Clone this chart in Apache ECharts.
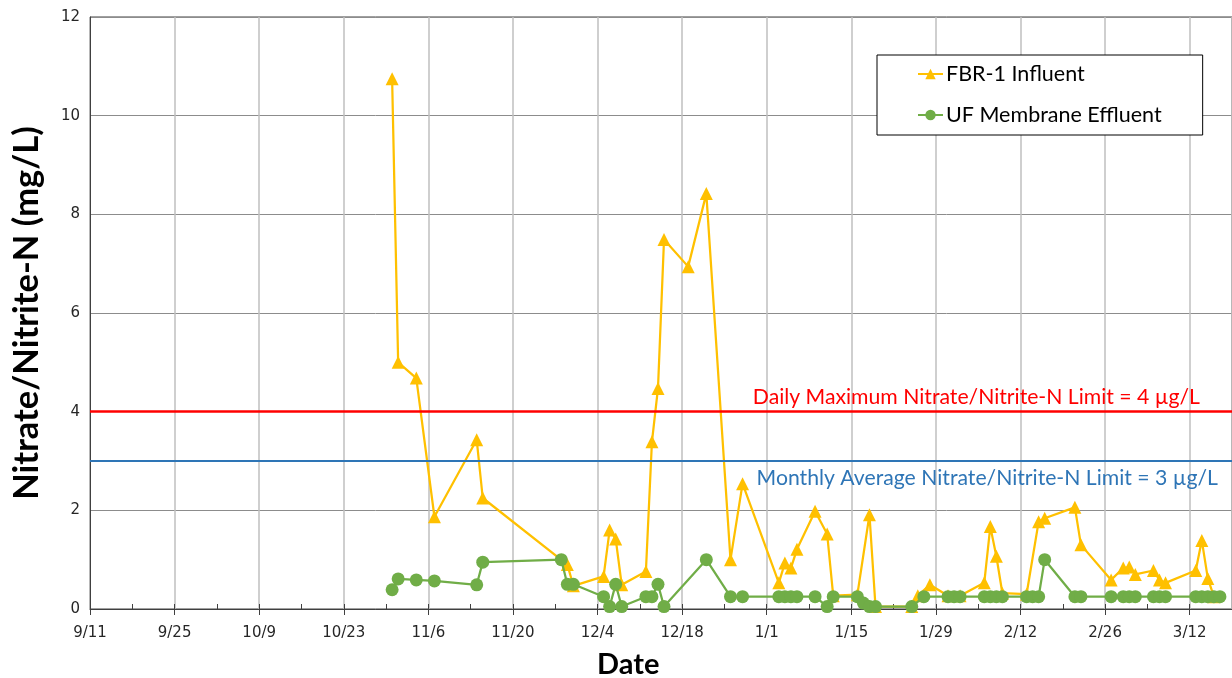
<!DOCTYPE html>
<html><head><meta charset="utf-8">
<script src="https://cdn.jsdelivr.net/npm/echarts@6/dist/echarts.min.js"></script>
<style>html,body{margin:0;padding:0;background:#fff}#c{width:1232px;height:678px}</style>
</head><body><div id="c"></div>
<script>
// ---- data ----
const startDate = '2013-09-11';
const axisMaxDays = 189;
const tickDays = 14;
const minorTickDays = 7;
const yMin = 0, yMax = 12, yStep = 2;

const influentDates = ['2013-10-31','2013-11-01','2013-11-04','2013-11-07','2013-11-14','2013-11-15','2013-11-29','2013-11-30',
  '2013-12-05','2013-12-06','2013-12-07','2013-12-08','2013-12-12','2013-12-13','2013-12-14','2013-12-15','2013-12-19','2013-12-22',
  '2013-12-26','2013-12-28','2014-01-03','2014-01-04','2014-01-05','2014-01-06','2014-01-09','2014-01-11','2014-01-12','2014-01-16',
  '2014-01-18','2014-01-19','2014-01-25','2014-01-26','2014-01-28','2014-01-31','2014-02-02','2014-02-06','2014-02-07','2014-02-08',
  '2014-02-09','2014-02-13','2014-02-15','2014-02-16','2014-02-21','2014-02-22','2014-02-27','2014-03-01','2014-03-02','2014-03-03',
  '2014-03-06','2014-03-07','2014-03-08','2014-03-13','2014-03-14','2014-03-15','2014-03-16'];
const influentValues = [10.75,5.0,4.68,1.87,3.43,2.25,0.9,0.47,
  0.66,1.6,1.42,0.49,0.76,3.39,4.47,7.49,6.94,8.42,
  1.0,2.54,0.53,0.93,0.83,1.21,1.98,1.52,0.27,0.29,
  1.91,0.05,0.05,0.27,0.49,0.27,0.27,0.53,1.67,1.07,
  0.32,0.3,1.77,1.84,2.06,1.3,0.59,0.83,0.85,0.7,
  0.78,0.59,0.53,0.78,1.39,0.62,0.25];

const effluentDates = ['2013-10-31','2013-11-01','2013-11-04','2013-11-07','2013-11-14','2013-11-15','2013-11-28','2013-11-29','2013-11-30',
  '2013-12-05','2013-12-06','2013-12-07','2013-12-08','2013-12-12','2013-12-13','2013-12-14','2013-12-15','2013-12-22','2013-12-26','2013-12-28',
  '2014-01-03','2014-01-04','2014-01-05','2014-01-06','2014-01-09','2014-01-11','2014-01-12','2014-01-16','2014-01-17','2014-01-18','2014-01-19',
  '2014-01-25','2014-01-27','2014-01-31','2014-02-01','2014-02-02','2014-02-06','2014-02-07','2014-02-08','2014-02-09',
  '2014-02-13','2014-02-14','2014-02-15','2014-02-16','2014-02-21','2014-02-22','2014-02-27','2014-03-01','2014-03-02','2014-03-03',
  '2014-03-06','2014-03-07','2014-03-08','2014-03-13','2014-03-14','2014-03-15','2014-03-16','2014-03-17'];
const effluentValues = [0.39,0.61,0.59,0.57,0.49,0.95,1.0,0.5,0.5,
  0.25,0.05,0.5,0.05,0.25,0.25,0.5,0.05,1.0,0.25,0.25,
  0.25,0.25,0.25,0.25,0.25,0.05,0.25,0.25,0.12,0.05,0.05,
  0.05,0.25,0.25,0.25,0.25,0.25,0.25,0.25,0.25,
  0.25,0.25,0.25,1.0,0.25,0.25,0.25,0.25,0.25,0.25,
  0.25,0.25,0.25,0.25,0.25,0.25,0.25,0.25];

const dailyMaxLimit = 4;
const monthlyAvgLimit = 3;
const seriesNames = ['FBR-1 Influent','UF Membrane Effluent'];
const dailyLabel = 'Daily Maximum Nitrate/Nitrite-N Limit = 4 \u00b5g/L';
const monthlyLabel = 'Monthly Average Nitrate/Nitrite-N Limit = 3 \u00b5g/L';
const yTitle = 'Nitrate/Nitrite-N (mg/L)';
const xTitle = 'Date';

// ---- helpers ----
const DAY = 86400000;
const t0 = Date.parse(startDate + 'T00:00:00Z');
function toDay(s){ return Math.round((Date.parse(s + 'T00:00:00Z') - t0) / DAY); }
function dayLabel(d){ const dt = new Date(t0 + d * DAY); return (dt.getUTCMonth() + 1) + '/' + dt.getUTCDate(); }
function pairs(ds, vs){ return ds.map((d, i) => [toDay(d), vs[i]]); }

const chart = echarts.init(document.getElementById('c'), null, {renderer: 'canvas'});
const tickFont = {fontFamily: 'DejaVu Sans', fontSize: 15, color: '#262626'};
chart.setOption({
  animation: false,
  backgroundColor: '#fff',
  grid: {left: 90, top: 17, width: 1143, height: 592, show: true, borderColor: '#404040', borderWidth: 1, backgroundColor: 'transparent'},
  legend: {
    data: seriesNames, orient: 'vertical', left: 877, top: 55,
    borderColor: '#000', borderWidth: 1, backgroundColor: '#fff',
    padding: [7, 41, 8, 40], itemGap: 17, itemWidth: 25, itemHeight: 13,
    textStyle: {fontFamily: 'Lato', fontSize: 21.5, color: '#000', lineHeight: 24, padding: [0, 0, 0, -2]}
  },
  xAxis: [{
    type: 'value', min: 0, max: axisMaxDays, interval: tickDays,
    axisLine: {show: true, lineStyle: {color: '#404040', width: 1}},
    axisTick: {show: true, length: 6, lineStyle: {color: '#404040'}},
    axisLabel: Object.assign({formatter: dayLabel, margin: 17, showMaxLabel: false}, tickFont),
    splitLine: {show: true, lineStyle: {color: '#bfbfbf', width: 1.5}}
  }, {
    type: 'value', min: 0, max: axisMaxDays, interval: minorTickDays, position: 'bottom', offset: 0,
    axisLine: {show: false}, axisTick: {show: true, inside: true, length: 5, lineStyle: {color: '#404040'}},
    axisLabel: {show: false}, splitLine: {show: false}
  }],
  yAxis: {
    type: 'value', min: yMin, max: yMax, interval: yStep,
    axisLine: {show: true, lineStyle: {color: '#404040', width: 1}},
    axisTick: {show: false},
    axisLabel: Object.assign({margin: 10}, tickFont),
    splitLine: {show: true, lineStyle: {color: '#8c8c8c', width: 1}},
    name: yTitle, nameLocation: 'middle', nameGap: 46,
    nameTextStyle: {fontFamily: 'Lato', fontWeight: 'bold', fontSize: 34.5, color: '#000'}
  },
  graphic: [{type: 'text', left: 597, top: 650, style: {text: xTitle, fontFamily: 'Lato', fontWeight: 'bold', fontSize: 29, fill: '#000'}}],
  series: [{
    type: 'line', name: 'limits', data: [], z: 1, silent: true,
    markLine: {
      silent: true, symbol: ['none', 'none'], animation: false,
      data: [
        {yAxis: dailyMaxLimit, lineStyle: {color: '#FF0000', width: 2.5, type: 'solid'},
         label: {show: true, position: 'insideEndTop', formatter: dailyLabel, color: '#FF0000', fontFamily: 'Lato', fontSize: 21.2, distance: [32, 4]}},
        {yAxis: monthlyAvgLimit, lineStyle: {color: '#2E75B6', width: 2, type: 'solid'},
         label: {show: true, position: 'insideEndBottom', formatter: monthlyLabel, color: '#2E75B6', fontFamily: 'Lato', fontSize: 21.2, distance: [14, 7]}}
      ]
    }
  }, {
    type: 'line', name: seriesNames[0], data: pairs(influentDates, influentValues), z: 3,
    symbol: 'triangle', symbolSize: 13, color: '#FFC000',
    itemStyle: {color: '#FFC000'}, lineStyle: {color: '#FFC000', width: 2.25}
  }, {
    type: 'line', name: seriesNames[1], data: pairs(effluentDates, effluentValues), z: 4,
    symbol: 'circle', symbolSize: 13, color: '#70AD47',
    itemStyle: {color: '#70AD47'}, lineStyle: {color: '#70AD47', width: 2.25}
  }]
});
</script></body></html>
